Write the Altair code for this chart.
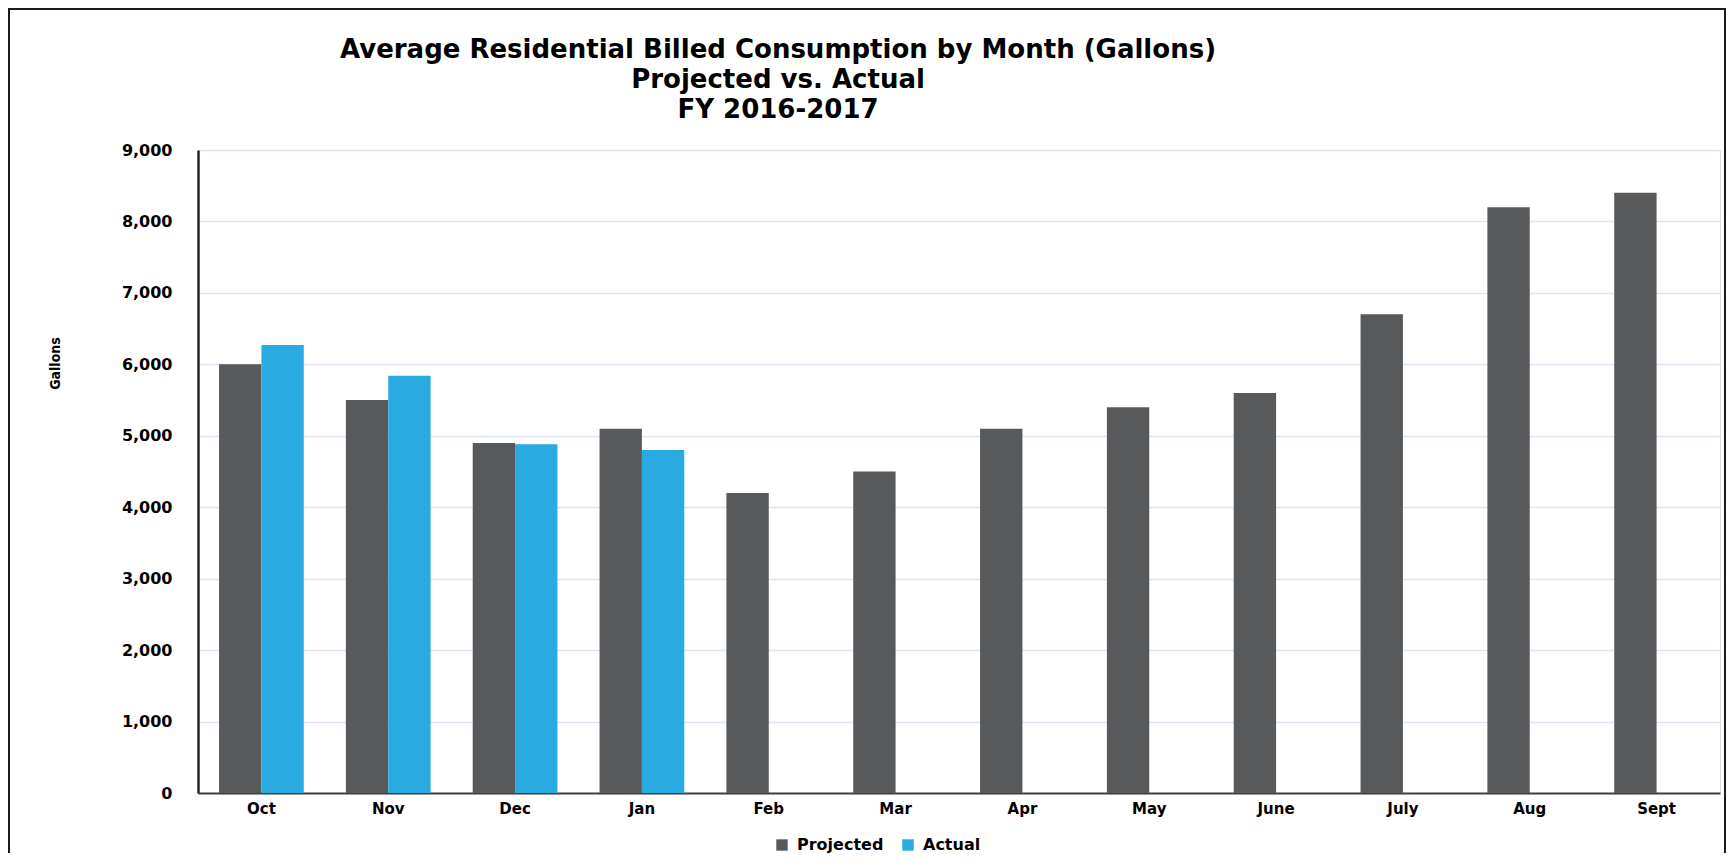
import altair as alt
import pandas as pd

months = ["Oct", "Nov", "Dec", "Jan", "Feb", "Mar", "Apr", "May", "June", "July", "Aug", "Sept"]
projected = [6000, 5500, 4900, 5100, 4200, 4500, 5100, 5400, 5600, 6700, 8200, 8400]
actual = [6270, 5840, 4880, 4800, None, None, None, None, None, None, None, None]
series = ["Projected", "Actual"]
colors = ["#58595B", "#29ABE2"]
y_ticks = [0, 1000, 2000, 3000, 4000, 5000, 6000, 7000, 8000, 9000]

rows = []
for m, p, a in zip(months, projected, actual):
    rows.append({"Month": m, "Series": "Projected", "Gallons": p})
    if a is not None:
        rows.append({"Month": m, "Series": "Actual", "Gallons": a})
df = pd.DataFrame(rows)

W, H = 1522, 643
BOLD = "DejaVu Sans"
NARROW = "'Liberation Sans Narrow', 'DejaVu Sans Condensed', sans-serif"

bars = alt.Chart(df).mark_bar().encode(
    x=alt.X("Month:N", sort=months,
            scale=alt.Scale(paddingInner=0.332, paddingOuter=0.166),
            axis=alt.Axis(title=None, labelAngle=0, ticks=False,
                          labelFont=BOLD, labelFontWeight="bold", labelFontSize=15,
                          labelColor="black", labelPadding=8,
                          domainColor="#404040", domainWidth=2)),
    xOffset=alt.XOffset("Series:N", scale=alt.Scale(domain=series, paddingInner=0, paddingOuter=0)),
    y=alt.Y("Gallons:Q",
            scale=alt.Scale(domain=[0, 9000], nice=False),
            axis=alt.Axis(values=y_ticks, format=",.0f", ticks=False,
                          title="Gallons", titleFont=NARROW, titleFontSize=14,
                          titleFontWeight="bold", titleColor="black",
                          titleAngle=270, titleX=-143, titleY=213,
                          titleAlign="center", titleBaseline="middle",
                          labelFont=BOLD, labelFontWeight="bold", labelFontSize=16,
                          labelColor="black", labelPadding=26,
                          domainColor="#262626", domainWidth=2.5,
                          grid=True, gridColor="#DCE6F2", gridWidth=1.5)),
    color=alt.Color("Series:N", scale=alt.Scale(domain=series, range=colors),
                    legend=alt.Legend(title=None, orient="none", direction="horizontal",
                                      legendX=576, legendY=687,
                                      symbolType="square", symbolSize=130,
                                      symbolStrokeWidth=0,
                                      labelFont=BOLD, labelFontWeight="bold",
                                      labelFontSize=16, labelColor="black",
                                      labelOffset=7, columnPadding=16)),
)

frame = alt.Chart(pd.DataFrame({"k": [0]})).mark_rect(
    fill=None, stroke="#1a1a1a", strokeWidth=2, clip=False
).encode(
    x=alt.value(-189), x2=alt.value(1527),
    y=alt.value(-141), y2=alt.value(H + 80),
)

chart = alt.layer(bars, frame).properties(
    width=W, height=H,
    title=alt.TitleParams(
        ["Average Residential Billed Consumption  by Month (Gallons)",
         "Projected vs. Actual", "FY 2016-2017"],
        font=BOLD, fontSize=26, fontWeight="bold", color="black",
        anchor="middle", frame="group", dx=-181, offset=-115, lineHeight=30,
    ),
    autosize=alt.AutoSizeParams(type="none"),
    padding={"left": 190, "top": 142, "right": 6, "bottom": 60},
).configure_view(
    stroke="#5a5a5a", strokeWidth=2
).configure(background="white")

chart.save("out.html", embed_options={"renderer": "svg", "actions": False})
